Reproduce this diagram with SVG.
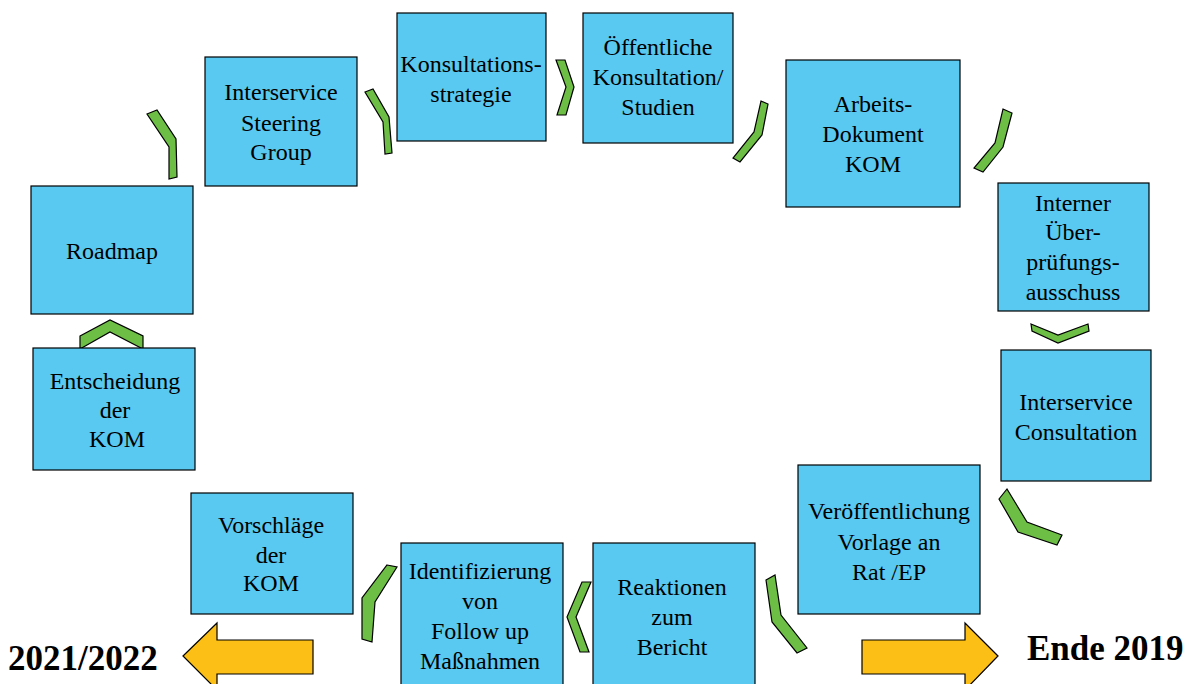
<svg xmlns="http://www.w3.org/2000/svg" width="1192" height="684" viewBox="0 0 1192 684">
<style>
.box{fill:#59C9F1;stroke:#000;stroke-width:1.2}
.chev{fill:#6DBE45;stroke:#000;stroke-width:1.2;stroke-linejoin:miter}
.arr{fill:#FBBF15;stroke:#000;stroke-width:1.2}
.t{font-family:"Liberation Serif","Times New Roman",serif;font-size:24px;fill:#000;text-anchor:middle}
.big{font-family:"Liberation Serif","Times New Roman",serif;font-size:35px;font-weight:bold;fill:#000}
</style>
<rect width="1192" height="684" fill="#fff"/>
<g id="connectors">
<polygon class="chev" points="147,114 157,110 176,139 177,177 169,179 169,147"/>
<polygon class="chev" points="365,92 373,89 389,117 392,153 385,154 383,122"/>
<polygon class="chev" points="556,60 565,60 574,87 566,115 557,115 566,87"/>
<polygon class="chev" points="761,101 768,104 762,135 740,162 733,158 754,132"/>
<polygon class="chev" points="1003,109 1012,113 1003,147 983,172 974,168 995,143"/>
<polygon class="chev" points="1031,324 1058,335 1088,324 1089,331 1058,343 1032,331"/>
<polygon class="chev" points="999,499 1007,489 1027,522 1062,535 1057,545 1018,532"/>
<polygon class="chev" points="766,580 775,575 781,615 807,648 797,653 772,622"/>
<polygon class="chev" points="582,582 591,582 576,617 589,652 580,652 567,617"/>
<polygon class="chev" points="387,565 397,567 375,602 372,642 362,639 362,598"/>
<polygon class="chev" points="80,336 110,320 143,336 143,349 110,332 80,349"/>
<polygon class="arr" points="183,656 217,623 217,640 313,640 313,674 217,674 217,690"/>
<polygon class="arr" points="998,656 965,623 965,640 862,640 862,674 965,674 965,690"/>
</g>
<g id="roadmap"><rect class="box" x="31" y="186" width="162" height="128"/><text class="t" x="112" y="259">Roadmap</text></g>
<g id="entscheidung"><rect class="box" x="33" y="348" width="162" height="122"/><text class="t" x="115" y="389">Entscheidung</text><text class="t" x="115" y="418">der</text><text class="t" x="117" y="447">KOM</text></g>
<g id="vorschlaege"><rect class="box" x="191" y="493" width="162" height="121"/><text class="t" x="271" y="533">Vorschläge</text><text class="t" x="271" y="563">der</text><text class="t" x="271" y="591">KOM</text></g>
<g id="identifizierung"><rect class="box" x="401" y="543" width="162" height="145"/><text class="t" x="480" y="579">Identifizierung</text><text class="t" x="480" y="609">von</text><text class="t" x="480" y="639">Follow up</text><text class="t" x="480" y="669">Maßnahmen</text></g>
<g id="reaktionen"><rect class="box" x="593" y="543" width="162" height="145"/><text class="t" x="672" y="595">Reaktionen</text><text class="t" x="672" y="625">zum</text><text class="t" x="672" y="655">Bericht</text></g>
<g id="veroeffentlichung"><rect class="box" x="798" y="465" width="182" height="149"/><text class="t" x="889" y="519">Veröffentlichung</text><text class="t" x="889" y="550">Vorlage an</text><text class="t" x="889" y="580">Rat /EP</text></g>
<g id="isc"><rect class="box" x="1001" y="350" width="150" height="131"/><text class="t" x="1076" y="410">Interservice</text><text class="t" x="1076" y="440">Consultation</text></g>
<g id="interner"><rect class="box" x="998" y="183" width="151" height="128"/><text class="t" x="1073" y="211">Interner</text><text class="t" x="1073" y="240">Über-</text><text class="t" x="1073" y="270">prüfungs-</text><text class="t" x="1073" y="300">ausschuss</text></g>
<g id="arbeits"><rect class="box" x="786" y="60" width="174" height="147"/><text class="t" x="873" y="112">Arbeits-</text><text class="t" x="873" y="142">Dokument</text><text class="t" x="873" y="172">KOM</text></g>
<g id="oeffentliche"><rect class="box" x="583" y="13" width="150" height="130"/><text class="t" x="658" y="55">Öffentliche</text><text class="t" x="658" y="85">Konsultation/</text><text class="t" x="658" y="115">Studien</text></g>
<g id="konsultationsstrategie"><rect class="box" x="397" y="13" width="149" height="128"/><text class="t" x="471" y="72">Konsultations-</text><text class="t" x="471" y="102">strategie</text></g>
<g id="isg"><rect class="box" x="205" y="57" width="152" height="129"/><text class="t" x="281" y="100">Interservice</text><text class="t" x="281" y="131">Steering</text><text class="t" x="281" y="160">Group</text></g>
<text class="big" x="8" y="670">2021/2022</text>
<text class="big" x="1027" y="660">Ende 2019</text>
</svg>
